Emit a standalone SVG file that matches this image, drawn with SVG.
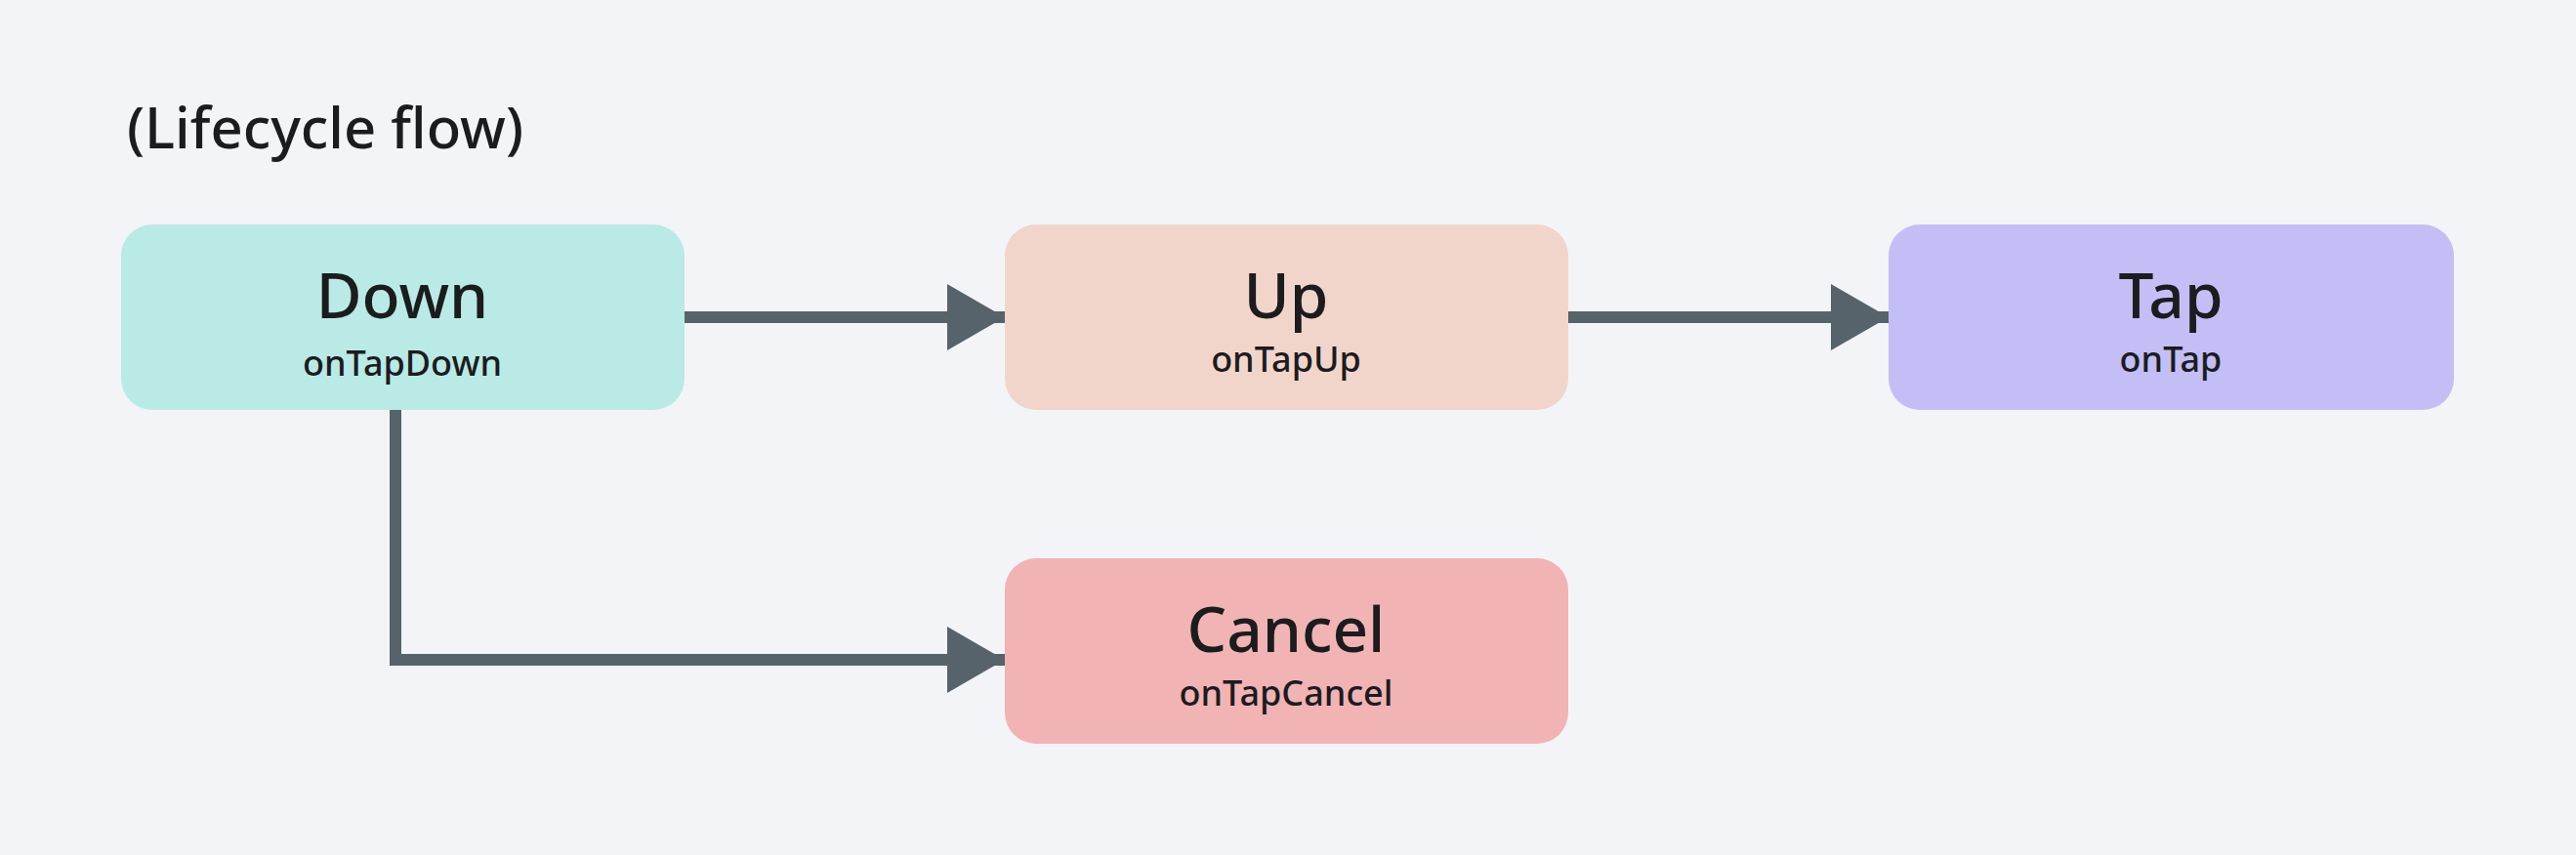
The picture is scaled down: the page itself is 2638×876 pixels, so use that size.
<svg xmlns="http://www.w3.org/2000/svg" width="2638" height="876" viewBox="0 0 2638 876">
<style>
.t{font-family:"Noto Sans","Open Sans",sans-serif;fill:#1b1c1e;text-anchor:middle}
.h{font-size:64px;font-weight:500}
.s{font-size:36px;font-weight:500}
.c{stroke:#56636b;stroke-width:12;fill:none}
</style>
<defs><marker id="a" markerUnits="userSpaceOnUse" markerWidth="60" markerHeight="70" refX="59" refY="34" orient="auto"><path d="M0,0L59,34L0,68Z" fill="#56636b"/></marker></defs>
<rect width="2638" height="876" fill="#f3f4f8"/>
<text x="130" y="152" font-family="Noto Sans,sans-serif" font-size="58" font-weight="500" fill="#1b1c1e">(Lifecycle flow)</text>
<g id="connectors">
<path class="c" d="M700,325H1029" marker-end="url(#a)"/>
<path class="c" d="M1606,325H1934" marker-end="url(#a)"/>
<path class="c" d="M405,420V676H1029" marker-end="url(#a)"/>
</g>
<g id="down"><rect x="124" y="230" width="577" height="190" rx="32" fill="#b9eae6"/><text class="t h" x="412" y="326">Down</text><text class="t s" x="412" y="385">onTapDown</text></g>
<g id="up"><rect x="1029" y="230" width="577" height="190" rx="32" fill="#f2d5ca"/><text class="t h" x="1317" y="326">Up</text><text class="t s" x="1317" y="381">onTapUp</text></g>
<g id="tap"><rect x="1934" y="230" width="579" height="190" rx="32" fill="#c3bef5"/><text class="t h" x="2223" y="326">Tap</text><text class="t s" x="2223" y="381">onTap</text></g>
<g id="cancel"><rect x="1029" y="572" width="577" height="190" rx="32" fill="#f2b3b5"/><text class="t h" x="1317" y="668">Cancel</text><text class="t s" x="1317" y="723">onTapCancel</text></g>
</svg>
